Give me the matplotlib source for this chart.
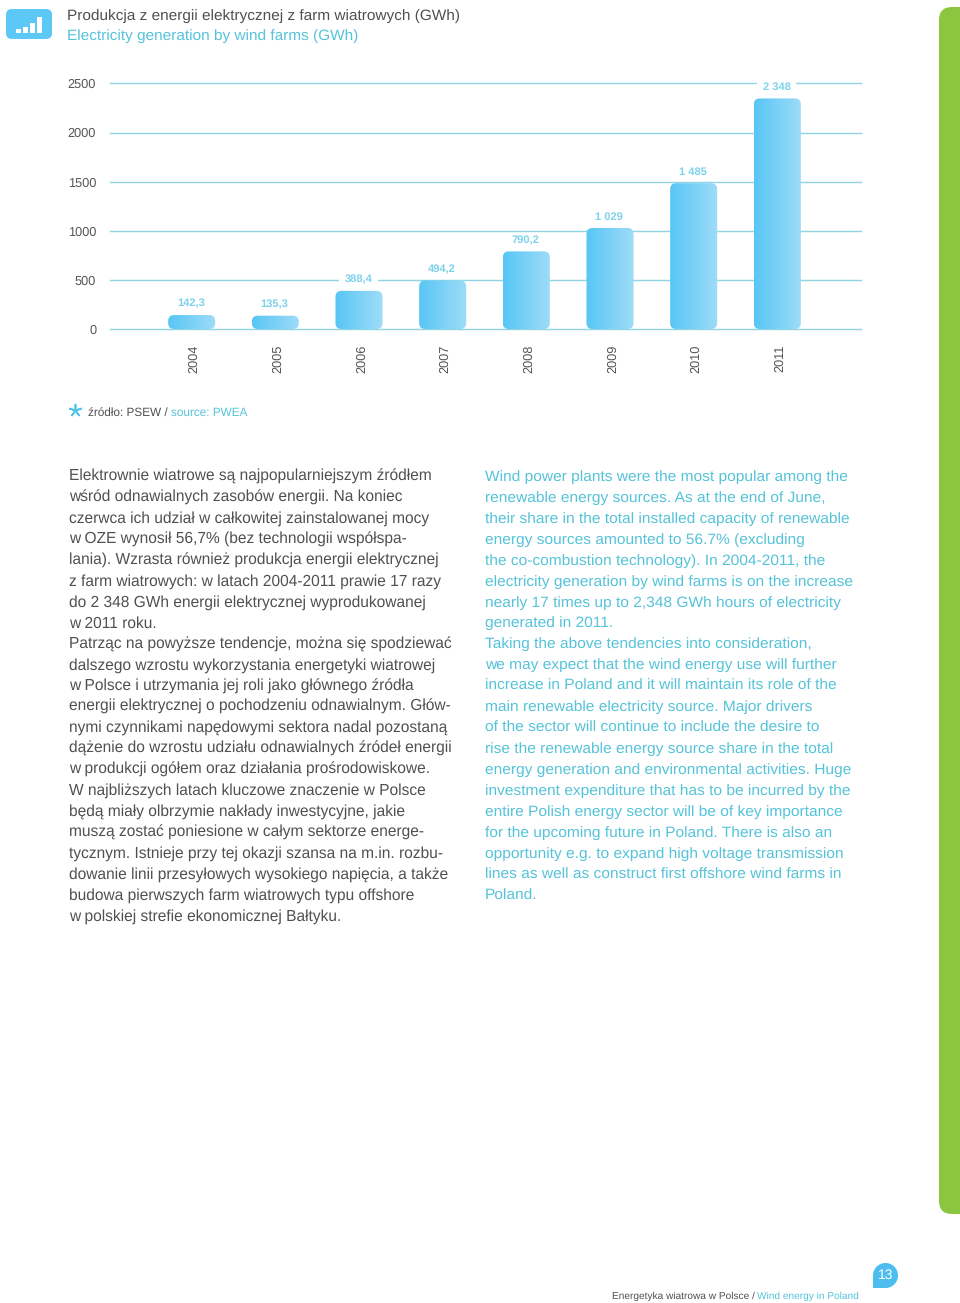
import matplotlib
matplotlib.use('Agg')
import matplotlib.pyplot as plt
import numpy as np
from matplotlib.patches import FancyBboxPatch, Circle, Rectangle
from matplotlib.transforms import ScaledTranslation

plt.rcParams['font.family'] = ['Liberation Sans', 'DejaVu Sans']
plt.rcParams['text.hinting'] = 'none'

# dane wykresu
years = ['2004', '2005', '2006', '2007', '2008', '2009', '2010', '2011']
values = [142.3, 135.3, 388.4, 494.2, 790.2, 1029, 1485, 2348]
value_labels = ['142,3', '135,3', '388,4', '494,2', '790,2', '1 029', '1 485', '2 348']
y_ticks = [0, 500, 1000, 1500, 2000, 2500]

title_pl = 'Produkcja z energii elektrycznej z farm wiatrowych (GWh)'
title_en = 'Electricity generation by wind farms (GWh)'

text_pl = [
    'Elektrownie wiatrowe są najpopularniejszym źródłem',
    'wśród odnawialnych zasobów energii. Na koniec',
    'czerwca ich udział w całkowitej zainstalowanej mocy',
    'w OZE wynosił 56,7% (bez technologii współspa-',
    'lania). Wzrasta również produkcja energii elektrycznej',
    'z farm wiatrowych: w latach 2004-2011 prawie 17 razy',
    'do 2 348 GWh energii elektrycznej wyprodukowanej',
    'w 2011 roku.',
    'Patrząc na powyższe tendencje, można się spodziewać',
    'dalszego wzrostu wykorzystania energetyki wiatrowej',
    'w Polsce i utrzymania jej roli jako głównego źródła',
    'energii elektrycznej o pochodzeniu odnawialnym. Głów-',
    'nymi czynnikami napędowymi sektora nadal pozostaną',
    'dążenie do wzrostu udziału odnawialnych źródeł energii',
    'w produkcji ogółem oraz działania prośrodowiskowe.',
    'W najbliższych latach kluczowe znaczenie w Polsce',
    'będą miały olbrzymie nakłady inwestycyjne, jakie',
    'muszą zostać poniesione w całym sektorze energe-',
    'tycznym. Istnieje przy tej okazji szansa na m.in. rozbu-',
    'dowanie linii przesyłowych wysokiego napięcia, a także',
    'budowa pierwszych farm wiatrowych typu offshore',
    'w polskiej strefie ekonomicznej Bałtyku.',
]
text_en = [
    'Wind power plants were the most popular among the',
    'renewable energy sources. As at the end of June,',
    'their share in the total installed capacity of renewable',
    'energy sources amounted to 56.7% (excluding',
    'the co-combustion technology). In 2004-2011, the',
    'electricity generation by wind farms is on the increase',
    'nearly 17 times up to 2,348 GWh hours of electricity',
    'generated in 2011.',
    'Taking the above tendencies into consideration,',
    'we may expect that the wind energy use will further',
    'increase in Poland and it will maintain its role of the',
    'main renewable electricity source. Major drivers',
    'of the sector will continue to include the desire to',
    'rise the renewable energy source share in the total',
    'energy generation and environmental activities. Huge',
    'investment expenditure that has to be incurred by the',
    'entire Polish energy sector will be of key importance',
    'for the upcoming future in Poland. There is also an',
    'opportunity e.g. to expand high voltage transmission',
    'lines as well as construct first offshore wind farms in',
    'Poland.',
]

GREY = '#505050'
CYAN = '#55c3d9'
W, H = 960, 1303

fig = plt.figure(figsize=(W / 100, H / 100), dpi=100, facecolor='white')

# warstwa strony w pikselach
page = fig.add_axes([0, 0, 1, 1])
page.set_xlim(0, W)
page.set_ylim(H, 0)
page.axis('off')

# zielony pas po prawej
page.add_patch(FancyBboxPatch((939, 7), 60, 1207, boxstyle='round,pad=0,rounding_size=13',
                              fc='#8cc63f', ec='none'))

# ikona
page.add_patch(FancyBboxPatch((6, 9), 46, 30, boxstyle='round,pad=0,rounding_size=6',
                              fc='#5cc8f5', ec='none'))
for bx, bh in zip([16, 23, 30, 37], [4, 6, 10, 16]):
    page.add_patch(Rectangle((bx, 33 - bh), 5, bh, fc='white', ec='none'))

page.text(67, 20, title_pl, fontsize=11.05, color=GREY)
page.text(67, 40, title_en, fontsize=11.05, color=CYAN)

# zrodlo
page.plot([74.5], [410], marker=(5, 2, 0), ms=9.5, mew=1.2, color='#4fc3e8')
page.text(88, 415.5, 'źródło: PSEW /', fontsize=8.45, color=GREY)
page.text(171, 415.5, 'source: PWEA', fontsize=8.45, color=CYAN)

# tekst
for i, line in enumerate(text_pl):
    page.text(69, 480.7 + i * 20.95, line, fontsize=11.16, color=GREY)
for i, line in enumerate(text_en):
    page.text(485, 480.7 + i * 20.95, line, fontsize=11.14, color=CYAN)

# stopka
page.text(612.5, 1298.5, 'Energetyka wiatrowa w Polsce /', fontsize=7.3, color=GREY)
page.text(757, 1298.5, 'Wind energy in Poland', fontsize=7.3, color=CYAN)
page.add_patch(Circle((885.5, 1275.5), 12.5, fc='#4dbdee', ec='none'))
page.add_patch(Rectangle((873, 1275.5), 12.5, 12.5, fc='#4dbdee', ec='none'))
page.text(885.5, 1275.5, '13', fontsize=10, color='white', ha='center', va='center')

# wykres
ax = fig.add_axes([110 / W, 1 - 329 / H, 751 / W, 245.5 / H])
ax.patch.set_alpha(0)
x = np.arange(len(years))
ax.set_xlim(-0.976, 8.0)
ax.set_ylim(0, 2500)
ax.set_yticks(y_ticks)
ax.set_xticks(x)
ax.set_xticklabels(years, rotation=90)
ax.tick_params(axis='y', length=0, pad=10, labelsize=9.2, labelcolor='#555555')
ax.tick_params(axis='x', length=0, pad=11, labelsize=9.2, labelcolor='#555555')
ax.grid(axis='y', color='#8fd6e2', lw=1.0)
ax.set_axisbelow(True)
for s in ax.spines.values():
    s.set_visible(False)
for gl in ax.get_ygridlines():
    gl.set_clip_on(False)
# etykiety lat lekko w prawo
shift = ScaledTranslation(2.5 / 100, 0, fig.dpi_scale_trans)
for lab in ax.get_xticklabels():
    lab.set_transform(lab.get_transform() + shift)

bars = ax.bar(x, values, width=47 / 83.64, color='none')

# zaokraglone slupki z gradientem
px_x = 8.976 / 751
px_y = 2500 / 245.5
gradient = np.linspace(0, 1, 64).reshape(1, -1)
cmap = matplotlib.colors.LinearSegmentedColormap.from_list('bar', ['#58c6f5', '#9edcf8'])
for bar, label in zip(bars, value_labels):
    x0, w, h = bar.get_x(), bar.get_width(), bar.get_height()
    clip = FancyBboxPatch((x0, 0), w, h, boxstyle='round,pad=0,rounding_size=%f' % (6 * px_x),
                          mutation_aspect=px_y / px_x, fc='none', ec='none', zorder=3)
    ax.add_patch(clip)
    im = ax.imshow(gradient, extent=(x0, x0 + w, 0, h), aspect='auto', cmap=cmap, zorder=3)
    im.set_clip_path(clip)
    # te dwie etykiety przerywaja linie siatki
    pad = 4 if label in ('388,4', '2 348') else 1.5
    ax.annotate(label, (x0 + w / 2, h), xytext=(-0.5, 8), textcoords='offset points',
                ha='center', va='center', fontsize=8, fontweight='bold', color='#7fd2ea',
                bbox=dict(fc='white', ec='none', pad=pad), zorder=4)
ax.set_xlim(-0.976, 8.0)
ax.set_ylim(0, 2500)

fig.savefig('out.png', dpi=100)
